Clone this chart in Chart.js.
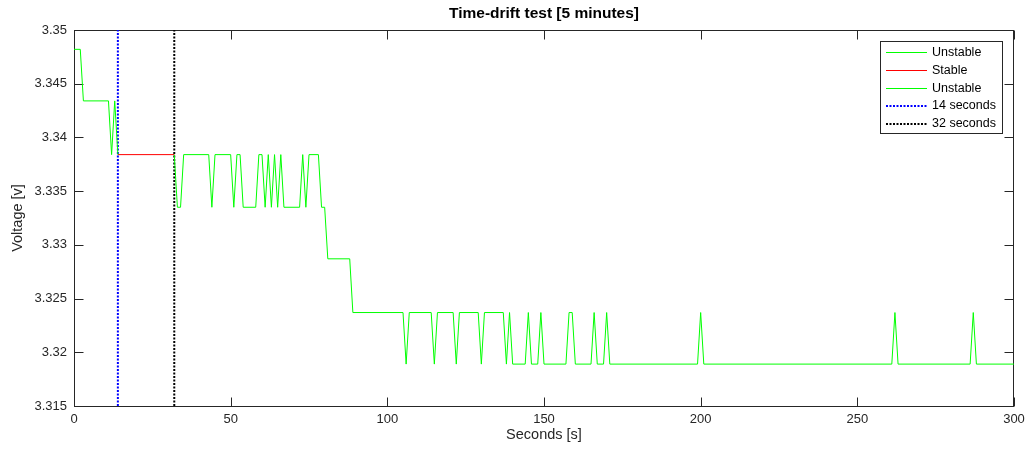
<!DOCTYPE html>
<html><head><meta charset="utf-8">
<script src="https://cdn.jsdelivr.net/npm/chart.js@4.4.1/dist/chart.umd.min.js"></script>
<style>html,body{margin:0;padding:0;background:#fff;}canvas{display:block;}</style>
</head><body>
<canvas id="c" width="1031" height="455"></canvas>
<script>
const chartTitle = 'Time-drift test [5 minutes]';
const xAxisTitle = 'Seconds [s]';
const yAxisTitle = 'Voltage [v]';
const xMin = 0, xMax = 300;
const yMin = 3.315, yMax = 3.35;
const xTickValues = [0, 50, 100, 150, 200, 250, 300];
const xTickLabels = ['0', '50', '100', '150', '200', '250', '300'];
const yTickValues = [3.315, 3.32, 3.325, 3.33, 3.335, 3.34, 3.345, 3.35];
const yTickLabels = ['3.315', '3.32', '3.325', '3.33', '3.335', '3.34', '3.345', '3.35'];

const seriesLabels = ['Unstable', 'Stable', 'Unstable'];
const unstable1Seconds = [0, 2, 3, 11, 12, 13, 14];
const unstable1Voltage = [3.3482, 3.3482, 3.3434, 3.3434, 3.3384, 3.3434, 3.3384];
const stableSeconds = [14, 32];
const stableVoltage = [3.3384, 3.3384];
const unstable2Seconds = [32, 33, 34, 35, 43, 44, 45, 50, 51, 52, 53, 54, 58, 59, 60, 61, 62, 63, 64, 65, 66, 67, 72, 73, 74, 75, 78, 79, 80, 81, 88, 89,
  105, 106, 107, 114, 115, 116, 121, 122, 123, 129, 130, 131, 137, 138, 139, 140, 144, 145, 146, 148, 149, 150, 157, 158, 159, 160,
  165, 166, 167, 169, 170, 171, 199, 200, 201, 261, 262, 263, 286, 287, 288, 300];
const unstable2Voltage = [3.3384, 3.3335, 3.3335, 3.3384, 3.3384, 3.3335, 3.3384, 3.3384, 3.3335, 3.3384, 3.3384, 3.3335, 3.3335, 3.3384, 3.3384, 3.3335,
  3.3384, 3.3335, 3.3384, 3.3335, 3.3384, 3.3335, 3.3335, 3.3384, 3.3335, 3.3384, 3.3384, 3.3335, 3.3335, 3.3287, 3.3287, 3.3237,
  3.3237, 3.3189, 3.3237, 3.3237, 3.3189, 3.3237, 3.3237, 3.3189, 3.3237, 3.3237, 3.3189, 3.3237, 3.3237, 3.3189, 3.3237, 3.3189,
  3.3189, 3.3237, 3.3189, 3.3189, 3.3237, 3.3189, 3.3189, 3.3237, 3.3237, 3.3189,
  3.3189, 3.3237, 3.3189, 3.3189, 3.3237, 3.3189, 3.3189, 3.3237, 3.3189, 3.3189, 3.3237, 3.3189, 3.3189, 3.3237, 3.3189, 3.3189];
const markerSeconds = [14, 32];
const markerLabels = ['14 seconds', '32 seconds'];

const FONT = "'Liberation Sans', Arial, Helvetica, sans-serif";
const AXIS_COLOR = '#262626';
const lineColors = ['#00ff00', '#ff0000', '#00ff00', '#0000ff', '#000000'];
const lineWidths = [1, 1, 1, 2, 2];
const lineDashes = [[], [], [], [2, 1.5], [2, 1.5]];

function pts(xs, ys) { return xs.map((v, i) => ({ x: v, y: ys[i] })); }
function vline(s) { return [{ x: s, y: yMin }, { x: s, y: yMax }]; }

const datasets = [
  { label: seriesLabels[0], data: pts(unstable1Seconds, unstable1Voltage) },
  { label: seriesLabels[1], data: pts(stableSeconds, stableVoltage) },
  { label: seriesLabels[2], data: pts(unstable2Seconds, unstable2Voltage) },
  { label: markerLabels[0], data: vline(markerSeconds[0]) },
  { label: markerLabels[1], data: vline(markerSeconds[1]) }
].map((d, i) => Object.assign({
  pointRadius: 0, tension: 0, fill: false,
  borderColor: lineColors[i], borderWidth: lineWidths[i], borderDash: lineDashes[i]
}, d));

const framePlugin = {
  id: 'frame',
  beforeDatasetsDraw(chart) {
    const { ctx, chartArea: a, scales: { x, y } } = chart;
    const L = Math.round(a.left) + 0.5, R = Math.round(a.right) - 0.5;
    const T = Math.round(a.top) + 0.5, B = Math.round(a.bottom) + 0.5;
    ctx.save();
    ctx.strokeStyle = AXIS_COLOR;
    ctx.lineWidth = 1;
    ctx.beginPath();
    const tl = 9;
    xTickValues.forEach(v => {
      const px = Math.round(x.getPixelForValue(v)) + 0.5;
      ctx.moveTo(px, B); ctx.lineTo(px, B - tl);
      ctx.moveTo(px, T); ctx.lineTo(px, T + tl);
    });
    yTickValues.forEach(v => {
      const py = Math.round(y.getPixelForValue(v)) + 0.5;
      ctx.moveTo(L, py); ctx.lineTo(L + tl, py);
      ctx.moveTo(R, py); ctx.lineTo(R - tl, py);
    });
    ctx.stroke();
    ctx.strokeRect(L, T, R - L, B - T);
    ctx.restore();
  },
  afterDraw(chart) {
    const { ctx, chartArea: a } = chart;
    ctx.save();
    ctx.setLineDash([]);
    // title centred over the plot area
    ctx.fillStyle = '#000000';
    ctx.font = 'bold 15.5px ' + FONT;
    ctx.textAlign = 'center';
    ctx.textBaseline = 'middle';
    ctx.fillText(chartTitle, (a.left + a.right) / 2, 14);
    // legend box
    const bx = 880.5, by = 41.5, bw = 122, bh = 92;
    ctx.fillStyle = '#ffffff';
    ctx.fillRect(bx, by, bw, bh);
    ctx.strokeStyle = AXIS_COLOR;
    ctx.lineWidth = 1;
    ctx.strokeRect(bx, by, bw, bh);
    ctx.font = '12.5px ' + FONT;
    ctx.textBaseline = 'middle';
    ctx.textAlign = 'left';
    chart.data.datasets.forEach((d, i) => {
      const cy = 52.7 + i * 17.7;
      const w = lineWidths[i];
      const top = Math.round(cy - w / 2);
      if (lineDashes[i].length) {
        const on = lineDashes[i][0], off = lineDashes[i][1];
        ctx.fillStyle = lineColors[i];
        for (let xx = 886; xx < 927; xx += on + off) {
          ctx.fillRect(xx, top, Math.min(on, 927 - xx), w);
        }
      } else {
        ctx.fillStyle = lineColors[i];
        ctx.fillRect(886, top, 41, w);
      }
      ctx.fillStyle = '#000000';
      ctx.fillText(d.label, 932, cy);
    });
    ctx.restore();
  }
};

new Chart(document.getElementById('c'), {
  type: 'line',
  data: { datasets },
  plugins: [framePlugin],
  options: {
    responsive: false,
    animation: false,
    events: [],
    layout: { padding: { left: 0, right: 17, top: 30, bottom: 0 } },
    plugins: {
      legend: { display: false },
      tooltip: { enabled: false },
      title: { display: false }
    },
    scales: {
      x: {
        type: 'linear', min: xMin, max: xMax,
        afterFit(s) { s.height = 49; },
        afterBuildTicks(s) { s.ticks = xTickValues.map(v => ({ value: v })); },
        grid: { display: false, drawTicks: false },
        border: { display: false },
        ticks: {
          color: AXIS_COLOR, padding: 6, maxRotation: 0, autoSkip: false,
          font: { family: FONT, size: 13 },
          callback: (v, i) => xTickLabels[i]
        },
        title: {
          display: true, text: xAxisTitle, color: AXIS_COLOR,
          font: { family: FONT, size: 14.5, lineHeight: 1.2 },
          padding: { top: 0, bottom: 11 }
        }
      },
      y: {
        type: 'linear', min: yMin, max: yMax,
        afterFit(s) { s.width = 74; },
        afterBuildTicks(s) { s.ticks = yTickValues.map(v => ({ value: v })); },
        grid: { display: false, drawTicks: false },
        border: { display: false },
        ticks: {
          color: AXIS_COLOR, padding: 7, autoSkip: false,
          font: { family: FONT, size: 13 },
          callback: (v, i) => yTickLabels[i]
        },
        title: {
          display: true, text: yAxisTitle, color: AXIS_COLOR,
          font: { family: FONT, size: 14.5, lineHeight: 1.2 },
          padding: { top: 9, bottom: 0 }
        }
      }
    }
  }
});
</script>
</body></html>
